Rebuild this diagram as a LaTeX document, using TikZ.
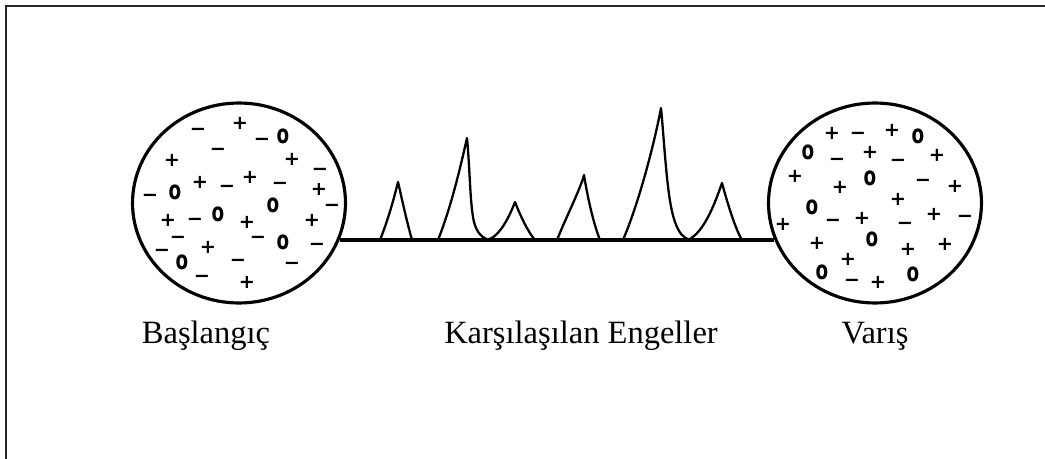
\documentclass[tikz,border=0pt]{standalone}
\usepackage{fontspec}
\setmainfont{Liberation Serif}
\newfontfamily\signfont{DejaVu Sans}
\usetikzlibrary{shapes.geometric, calc}
\newcommand\ovo{\scalebox{0.95}[1.35]{o}}

\begin{document}
\begin{tikzpicture}[x=0.02cm, y=-0.02cm,
  pool/.style={draw, ellipse, line width=1.8pt, minimum width=4.26cm, minimum height=4.0cm, inner sep=0pt},
  sgn/.style={inner sep=0pt, font=\signfont\bfseries\fontsize{11}{11}\selectfont},
  caption/.style={anchor=base, inner sep=0pt, font=\fontsize{18.5}{20}\selectfont},
  peak/.style={line width=1.3pt, line join=round}]
  \useasboundingbox (0,0) rectangle (1045,459);

  % Frame
  \draw[line width=1.2pt, black!85] (6,459) -- (6,6) -- (1045,6);

  % Start and finish
  \node[pool] (start) at (239,203) {};
  \node[pool] (finish) at (875,203) {};

  % Signs in the start pool
  \foreach \s/\x/\y [count=\i] in {+/240/123, −/198/132, −/262/142, \ovo/283/136, +/172/160, −/218/152,
      +/292/159, −/320/172, +/250/177, +/200/182, −/280/186, +/319/189, −/150/198, \ovo/175/192,
      −/227/189, \ovo/273/205, −/332/208, +/168/220, −/195/222, \ovo/218/214, +/247/222, +/312/220,
      −/178/240, +/208/247, −/258/240, \ovo/283/242, −/317/247, −/162/253, \ovo/182/262, −/238/263,
      −/292/266, −/202/279, +/247/282}
    \node[sgn] (a\i) at (\x,\y) {\s};

  % Signs in the finish pool
  \foreach \s/\x/\y [count=\i] in {+/832/133, −/858/136, +/892/130, \ovo/918/136, \ovo/808/152, −/837/162,
      +/870/152, +/937/155, −/898/163, +/795/176, +/840/187, \ovo/870/178, −/923/183, +/955/186,
      +/898/199, \ovo/812/207, +/783/224, −/833/223, +/862/218, +/934/214, −/905/226, −/965/219,
      +/817/243, \ovo/872/239, +/908/249, +/945/244, +/848/259, \ovo/822/272, −/852/283, +/878/282,
      \ovo/913/274}
    \node[sgn] (b\i) at (\x,\y) {\s};

  % Path between the pools
  \draw[line width=2.2pt] (start.-20.6) -- (finish.200.6);

  % Obstacles
  \draw[peak] (380,240) .. controls (390,215) and (396,190) .. (398,182)
                        .. controls (400,190) and (405,215) .. (412,240);
  \draw[peak] (438,240) .. controls (452,205) and (462,160) .. (467,138)
                        .. controls (470,170) and (470,205) .. (474,222)
                        .. controls (477,233) and (482,238) .. (489,240);
  \draw[peak] (487,240) .. controls (500,237) and (510,215) .. (515,202)
                        .. controls (520,215) and (528,232) .. (535,240);
  \draw[peak] (557,240) .. controls (567,215) and (580,190) .. (584,175)
                        .. controls (588,200) and (594,225) .. (600,240);
  \draw[peak] (623,240) .. controls (640,200) and (655,140) .. (661,108)
                        .. controls (665,150) and (667,200) .. (675,222)
                        .. controls (679,233) and (683,238) .. (690,240);
  \draw[peak] (688,240) .. controls (705,232) and (716,200) .. (722,183)
                        .. controls (728,205) and (735,228) .. (742,240);

  % Labels
  \node[caption] (lbl-start) at (206,343) {Başlangıç};
  \node[caption] (lbl-mid) at (581,343) {Karşılaşılan Engeller};
  \node[caption] (lbl-end) at (875,343) {Varış};
\end{tikzpicture}
\end{document}
